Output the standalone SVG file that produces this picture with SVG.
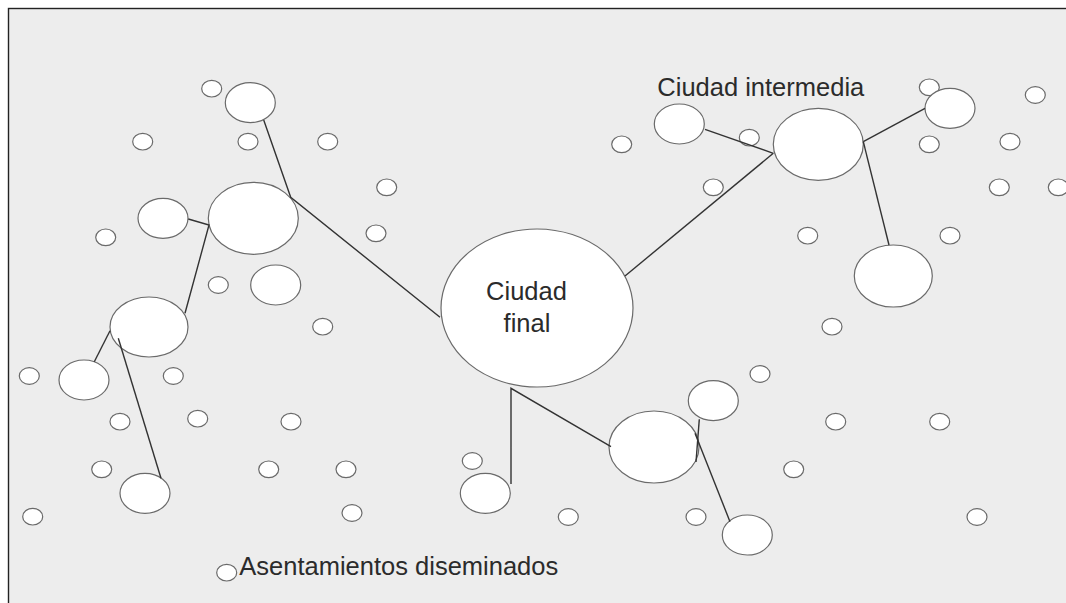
<svg xmlns="http://www.w3.org/2000/svg" width="1066" height="603" viewBox="0 0 1066 603">
<style>
.bg{fill:#ededed;stroke:#222;stroke-width:1.4}
.s{fill:#fff;stroke:#6a6a6a;stroke-width:1.2}
.c{stroke:#333;stroke-width:1.4;fill:none}
.t{font-family:"Liberation Sans",Arial,sans-serif;font-size:25.5px;fill:#2b2b2b}
</style>
<rect width="1066" height="603" fill="#fff"/>
<rect class="bg" x="8.5" y="8.5" width="1070" height="610"/>
<g id="small">
<ellipse class="s" cx="211.7" cy="88.7" rx="10" ry="8.3"/>
<ellipse class="s" cx="142.7" cy="141.7" rx="10" ry="8.3"/>
<ellipse class="s" cx="248" cy="141.7" rx="10" ry="8.3"/>
<ellipse class="s" cx="327.7" cy="141.7" rx="10" ry="8.3"/>
<ellipse class="s" cx="105.7" cy="237.3" rx="10" ry="8.3"/>
<ellipse class="s" cx="218.3" cy="285" rx="10" ry="8.3"/>
<ellipse class="s" cx="386.7" cy="187.3" rx="10" ry="8.3"/>
<ellipse class="s" cx="376" cy="233.3" rx="10" ry="8.3"/>
<ellipse class="s" cx="621.7" cy="144.3" rx="10" ry="8.3"/>
<ellipse class="s" cx="713.3" cy="187.3" rx="10" ry="8.3"/>
<ellipse class="s" cx="749.3" cy="137.7" rx="10" ry="8.3"/>
<ellipse class="s" cx="929.3" cy="87.3" rx="10" ry="8.3"/>
<ellipse class="s" cx="1035.3" cy="95" rx="10" ry="8.3"/>
<ellipse class="s" cx="929.3" cy="144.3" rx="10" ry="8.3"/>
<ellipse class="s" cx="1010" cy="141.7" rx="10" ry="8.3"/>
<ellipse class="s" cx="999.3" cy="187.3" rx="10" ry="8.3"/>
<ellipse class="s" cx="1058.3" cy="187.3" rx="10" ry="8.3"/>
<ellipse class="s" cx="807.7" cy="235.7" rx="10" ry="8.3"/>
<ellipse class="s" cx="950" cy="235.7" rx="10" ry="8.3"/>
<ellipse class="s" cx="322.7" cy="326.7" rx="10" ry="8.3"/>
<ellipse class="s" cx="832" cy="326.7" rx="10" ry="8.3"/>
<ellipse class="s" cx="29.3" cy="376" rx="10" ry="8.3"/>
<ellipse class="s" cx="173.3" cy="376" rx="10" ry="8.3"/>
<ellipse class="s" cx="760" cy="374" rx="10" ry="8.3"/>
<ellipse class="s" cx="120" cy="421.7" rx="10" ry="8.3"/>
<ellipse class="s" cx="197.7" cy="418.7" rx="10" ry="8.3"/>
<ellipse class="s" cx="291" cy="421.7" rx="10" ry="8.3"/>
<ellipse class="s" cx="835.7" cy="421.7" rx="10" ry="8.3"/>
<ellipse class="s" cx="939.7" cy="421.7" rx="10" ry="8.3"/>
<ellipse class="s" cx="101.7" cy="469.3" rx="10" ry="8.3"/>
<ellipse class="s" cx="268.7" cy="469.3" rx="10" ry="8.3"/>
<ellipse class="s" cx="346" cy="469.3" rx="10" ry="8.3"/>
<ellipse class="s" cx="472.3" cy="461" rx="10" ry="8.3"/>
<ellipse class="s" cx="793.7" cy="469.3" rx="10" ry="8.3"/>
<ellipse class="s" cx="32.7" cy="516.7" rx="10" ry="8.3"/>
<ellipse class="s" cx="352" cy="513" rx="10" ry="8.3"/>
<ellipse class="s" cx="568.3" cy="517" rx="10" ry="8.3"/>
<ellipse class="s" cx="696" cy="517" rx="10" ry="8.3"/>
<ellipse class="s" cx="977" cy="517" rx="10" ry="8.3"/>
<ellipse class="s" cx="226.7" cy="572.7" rx="10" ry="8.3"/>
</g>
<g id="medium">
<ellipse class="s" cx="250.3" cy="102.7" rx="25" ry="20"/>
<ellipse class="s" cx="163" cy="218.3" rx="25" ry="20"/>
<ellipse class="s" cx="275.7" cy="285" rx="25" ry="20"/>
<ellipse class="s" cx="84" cy="380" rx="25" ry="20"/>
<ellipse class="s" cx="145" cy="493.3" rx="25" ry="20"/>
<ellipse class="s" cx="485.3" cy="493.3" rx="25" ry="20"/>
<ellipse class="s" cx="713.3" cy="400.7" rx="25" ry="20"/>
<ellipse class="s" cx="747.3" cy="535" rx="25" ry="20"/>
<ellipse class="s" cx="679.3" cy="124" rx="25" ry="20"/>
<ellipse class="s" cx="950" cy="108.3" rx="25" ry="20"/>
<ellipse class="s" cx="149" cy="327" rx="39" ry="30"/>
<ellipse class="s" cx="893.3" cy="276" rx="39" ry="31"/>
</g>
<g id="large">
<ellipse class="s" cx="253.3" cy="218.3" rx="45" ry="36"/>
<ellipse class="s" cx="654" cy="447" rx="45" ry="36"/>
<ellipse id="ciudad-intermedia" class="s" cx="818.3" cy="144.3" rx="45" ry="36"/>
</g>
<g id="ciudad-final">
<ellipse class="s" cx="537" cy="308" rx="96" ry="79"/>
<text class="t" x="526.5" y="300" text-anchor="middle">Ciudad</text>
<text class="t" x="527" y="332.3" text-anchor="middle">final</text>
</g>
<g id="connectors">
<polyline class="c" points="263.7,120 290.7,197.3 440,317.3"/>
<polyline class="c" points="188.3,219 209,225 185,313.3"/>
<line class="c" x1="110" y1="330.7" x2="94.3" y2="361.7"/>
<line class="c" x1="118.3" y1="338.3" x2="161" y2="478.3"/>
<line class="c" x1="625" y1="276" x2="773.3" y2="153.3"/>
<line class="c" x1="705" y1="129.3" x2="773.3" y2="153.3"/>
<line class="c" x1="863.3" y1="141.7" x2="925" y2="108.3"/>
<line class="c" x1="863.3" y1="141.7" x2="889" y2="245"/>
<polyline class="c" points="611,446.7 511,388.3 511,484"/>
<line class="c" x1="699.3" y1="419.3" x2="696" y2="462"/>
<line class="c" x1="695" y1="433.3" x2="730" y2="521.7"/>
</g>
<g id="labels">
<text class="t" x="657.3" y="96.3">Ciudad intermedia</text>
<text class="t" x="239.3" y="575">Asentamientos diseminados</text>
</g>
</svg>
